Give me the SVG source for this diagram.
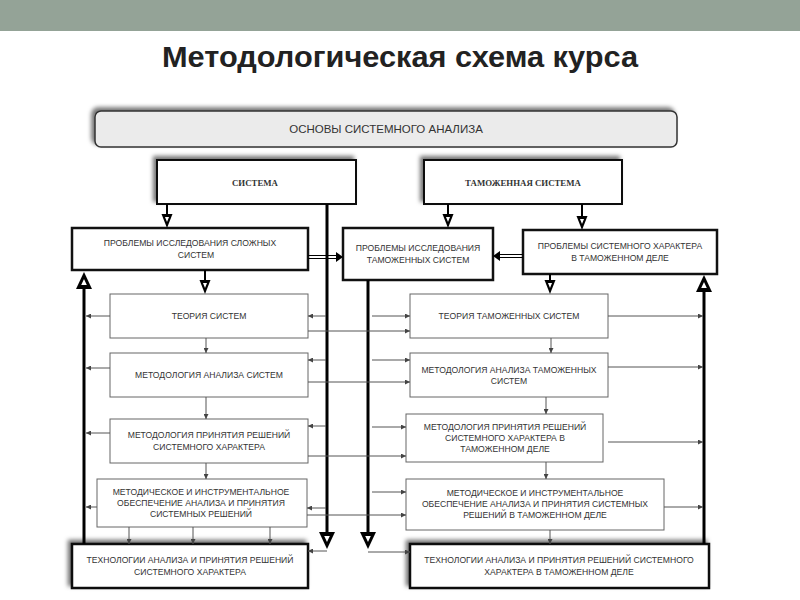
<svg xmlns="http://www.w3.org/2000/svg" width="800" height="600" viewBox="0 0 800 600">
<style>
.t{font-family:"Liberation Sans",Arial,sans-serif;font-size:8.6px;fill:#333;text-anchor:middle}
.h{font-family:"Liberation Serif","Times New Roman",serif;font-size:8.8px;font-weight:bold;fill:#333;text-anchor:middle}
.bk{fill:#fff;stroke:#111;stroke-width:2.5}
.bn{fill:#fff;stroke:#666;stroke-width:1}
.c{stroke:#555;stroke-width:1;fill:none}
.v{stroke:#000;stroke-width:3;fill:none}
.s{stroke:#000;stroke-width:2;fill:none}
</style>
<defs>
<filter id="sh" x="-10%" y="-30%" width="120%" height="160%"><feDropShadow dx="-3" dy="-3" stdDeviation="2" flood-color="#000" flood-opacity="0.55"/></filter>
<marker id="a" viewBox="0 0 6 6" refX="6" refY="3" markerWidth="5" markerHeight="5" orient="auto" markerUnits="userSpaceOnUse"><path d="M0,0 L6,3 L0,6 z" fill="#444"/></marker>
<g id="tb"><polygon points="-8,-17 8,-17 0,0" fill="#000"/><polygon points="-2.8,-13 2.8,-13 0,-7" fill="#fff"/></g>
<g id="ts"><polygon points="-5.5,-14 5.5,-14 0,0" fill="#000"/><polygon points="-2,-11 2,-11 0,-6" fill="#fff"/></g>
</defs>
<rect x="0" y="0" width="800" height="31" fill="#94a397"/>
<text x="400" y="67" font-family="'Liberation Sans',Arial,sans-serif" font-size="29" font-weight="bold" fill="#222" text-anchor="middle" textLength="476" lengthAdjust="spacingAndGlyphs">Методологическая схема курса</text>

<g id="osnovy"><rect x="95" y="111" width="582" height="36" rx="6" fill="#ebebeb" stroke="#333" stroke-width="1.5" filter="url(#sh)"/><text class="t" x="386" y="133" style="font-size:11.5px">ОСНОВЫ СИСТЕМНОГО АНАЛИЗА</text></g>

<g id="sistema"><rect class="bk" x="157" y="160" width="199" height="44" filter="url(#sh)" style="stroke-width:2"/><text class="h" x="255" y="186">СИСТЕМА</text></g>
<g id="tam-sistema"><rect class="bk" x="424" y="160" width="198" height="44" filter="url(#sh)" style="stroke-width:2"/><text class="h" x="523" y="186">ТАМОЖЕННАЯ СИСТЕМА</text></g>

<g id="probl-slozh"><rect class="bk" x="72" y="228" width="236" height="42"/><text class="t" x="190" y="246">ПРОБЛЕМЫ  ИССЛЕДОВАНИЯ СЛОЖНЫХ</text><text class="t" x="196" y="258">СИСТЕМ</text></g>
<g id="probl-tam"><rect class="bk" x="343" y="228" width="150" height="52"/><text class="t" x="418" y="251">ПРОБЛЕМЫ ИССЛЕДОВАНИЯ</text><text class="t" x="418" y="263">ТАМОЖЕННЫХ СИСТЕМ</text></g>
<g id="probl-har"><rect class="bk" x="523" y="230" width="194" height="44"/><text class="t" x="620" y="249">ПРОБЛЕМЫ СИСТЕМНОГО ХАРАКТЕРА</text><text class="t" x="620" y="261">В ТАМОЖЕННОМ ДЕЛЕ</text></g>

<g id="teoriya"><rect class="bn" x="110" y="294" width="198" height="44"/><text class="t" x="209" y="319">ТЕОРИЯ СИСТЕМ</text></g>
<g id="metod-analiz"><rect class="bn" x="110" y="353" width="198" height="44"/><text class="t" x="209" y="378">МЕТОДОЛОГИЯ АНАЛИЗА СИСТЕМ</text></g>
<g id="metod-prin"><rect class="bn" x="110" y="419" width="198" height="44"/><text class="t" x="209" y="438">МЕТОДОЛОГИЯ ПРИНЯТИЯ РЕШЕНИЙ</text><text class="t" x="209" y="450">СИСТЕМНОГО ХАРАКТЕРА</text></g>
<g id="metodich"><rect class="bn" x="97" y="479" width="210" height="48"/><text class="t" x="201" y="495">МЕТОДИЧЕСКОЕ И ИНСТРУМЕНТАЛЬНОЕ</text><text class="t" x="201" y="506">ОБЕСПЕЧЕНИЕ АНАЛИЗА И ПРИНЯТИЯ</text><text class="t" x="201" y="517">СИСТЕМНЫХ РЕШЕНИЙ</text></g>
<g id="tehnol"><rect class="bk" x="72" y="544" width="236" height="44" filter="url(#sh)"/><text class="t" x="190" y="563">ТЕХНОЛОГИИ АНАЛИЗА И  ПРИНЯТИЯ РЕШЕНИЙ</text><text class="t" x="190" y="575">СИСТЕМНОГО ХАРАКТЕРА</text></g>

<g id="teoriya-tam"><rect class="bn" x="410" y="294" width="198" height="44"/><text class="t" x="509" y="319">ТЕОРИЯ ТАМОЖЕННЫХ СИСТЕМ</text></g>
<g id="metod-analiz-tam"><rect class="bn" x="410" y="353" width="198" height="44"/><text class="t" x="509" y="373">МЕТОДОЛОГИЯ АНАЛИЗА ТАМОЖЕННЫХ</text><text class="t" x="509" y="384">СИСТЕМ</text></g>
<g id="metod-prin-tam"><rect class="bn" x="406" y="414" width="197" height="48"/><text class="t" x="505" y="430">МЕТОДОЛОГИЯ ПРИНЯТИЯ РЕШЕНИЙ</text><text class="t" x="505" y="441">СИСТЕМНОГО ХАРАКТЕРА В</text><text class="t" x="505" y="452">ТАМОЖЕННОМ ДЕЛЕ</text></g>
<g id="metodich-tam"><rect class="bn" x="406" y="479" width="258" height="51"/><text class="t" x="535" y="496">МЕТОДИЧЕСКОЕ И ИНСТРУМЕНТАЛЬНОЕ</text><text class="t" x="535" y="507">ОБЕСПЕЧЕНИЕ АНАЛИЗА И ПРИНЯТИЯ СИСТЕМНЫХ</text><text class="t" x="535" y="518">РЕШЕНИЙ В ТАМОЖЕННОМ ДЕЛЕ</text></g>
<g id="tehnol-tam"><rect class="bk" x="410" y="544" width="299" height="44" filter="url(#sh)"/><text class="t" x="559" y="563">ТЕХНОЛОГИИ АНАЛИЗА И  ПРИНЯТИЯ РЕШЕНИЙ СИСТЕМНОГО</text><text class="t" x="559" y="575">ХАРАКТЕРА В ТАМОЖЕННОМ ДЕЛЕ</text></g>

<g id="connectors">
<path class="v" d="M327,204 V533"/><use href="#tb" x="327" y="549"/>
<path class="v" d="M368,280 V533"/><use href="#tb" x="368" y="549"/>
<path class="v" d="M84,544 V288"/><use href="#tb" transform="translate(84,272) rotate(180)"/>
<path class="v" d="M704,544 V290"/><use href="#tb" transform="translate(704,275) rotate(180)"/>
<path class="s" d="M167,204 V215"/><use href="#ts" x="167" y="228"/>
<path class="s" d="M448,204 V215"/><use href="#ts" x="448" y="228"/>
<path class="s" d="M582,204 V217"/><use href="#ts" x="582" y="230"/>
<path class="s" d="M205,270 V281"/><use href="#ts" x="205" y="294"/>
<path class="s" d="M550,274 V281"/><use href="#ts" x="550" y="294"/>
<path d="M308,255.5 H337 M308,258.5 H337" stroke="#000" stroke-width="1"/><path d="M336,252 L343,257 L336,262 z" fill="#000"/>
<path d="M523,254.5 H499 M523,257.5 H499" stroke="#000" stroke-width="1"/><path d="M500,251 L493,256 L500,261 z" fill="#000"/>
<path class="c" marker-end="url(#a)" d="M206,338 V353"/>
<path class="c" marker-end="url(#a)" d="M206,397 V419"/>
<path class="c" marker-end="url(#a)" d="M206,463 V479"/>
<path class="c" marker-end="url(#a)" d="M129,527 V544"/>
<path class="c" marker-end="url(#a)" d="M193,527 V544"/>
<path class="c" marker-end="url(#a)" d="M270,527 V544"/>
<path class="c" marker-end="url(#a)" d="M551,338 V353"/>
<path class="c" marker-end="url(#a)" d="M546,397 V414"/>
<path class="c" marker-end="url(#a)" d="M546,462 V479"/>
<path class="c" marker-end="url(#a)" d="M550,530 V544"/>
<path class="c" marker-end="url(#a)" d="M110,316 H86"/>
<path class="c" marker-end="url(#a)" d="M110,368 H86"/>
<path class="c" marker-end="url(#a)" d="M110,433 H86"/>
<path class="c" marker-end="url(#a)" d="M97,507 H86"/>
<path class="c" marker-end="url(#a)" d="M326,316 H308"/>
<path class="c" marker-end="url(#a)" d="M326,360 H308"/>
<path class="c" marker-end="url(#a)" d="M326,426 H308"/>
<path class="c" marker-end="url(#a)" d="M326,508 H307"/>
<path class="c" marker-end="url(#a)" d="M327,551 H308"/>
<path class="c" marker-end="url(#a)" d="M308,331 H410"/>
<path class="c" marker-end="url(#a)" d="M308,382 H410"/>
<path class="c" marker-end="url(#a)" d="M308,456 H406"/>
<path class="c" marker-end="url(#a)" d="M307,515 H406"/>
<path class="c" marker-end="url(#a)" d="M372,316 H410"/>
<path class="c" marker-end="url(#a)" d="M372,360 H410"/>
<path class="c" marker-end="url(#a)" d="M372,427 H406"/>
<path class="c" marker-end="url(#a)" d="M372,492 H406"/>
<path class="c" marker-end="url(#a)" d="M368,552 H410"/>
<path class="c" marker-end="url(#a)" d="M608,316 H703"/>
<path class="c" marker-end="url(#a)" d="M608,367 H703"/>
<path class="c" marker-end="url(#a)" d="M608,442 H703"/>
<path class="c" marker-end="url(#a)" d="M664,507 H703"/>
</g>
</svg>
